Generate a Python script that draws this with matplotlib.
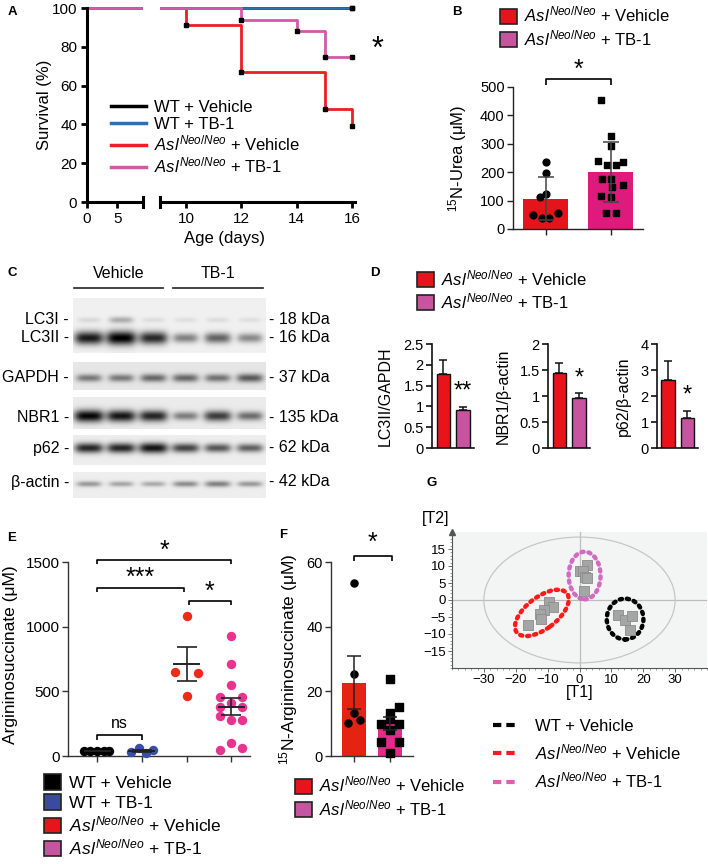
import matplotlib
matplotlib.use('Agg')
import matplotlib.pyplot as plt
import numpy as np
from matplotlib.patches import Patch, Ellipse, Rectangle
from matplotlib.lines import Line2D
from matplotlib.ticker import MultipleLocator, FormatStrFormatter

plt.rcParams['font.family'] = ['Liberation Sans', 'DejaVu Sans']
plt.rcParams['mathtext.fontset'] = 'custom'
plt.rcParams['mathtext.rm'] = 'Liberation Sans'
plt.rcParams['mathtext.it'] = 'Liberation Sans:italic'
plt.rcParams['mathtext.bf'] = 'Liberation Sans:bold'

# ---------------- data ----------------
# A: survival
wt_veh_days = [0, 16]
wt_veh_surv = [100, 100]
wt_tb1_days = [0, 16]
wt_tb1_surv = [100, 100]
asl_veh_days = [0, 10, 12, 15, 16]
asl_veh_surv = [100, 91, 67, 48, 39]
asl_tb1_days = [0, 12, 14, 15, 16]
asl_tb1_surv = [100, 94, 88, 75, 75]

# B: 15N-urea
urea_veh = [236, 196, 124, 112, 50, 39, 39, 56]
urea_veh_jit = [0, 0, 0, -0.08, -0.19, -0.06, 0.05, 0.19]
urea_tb1 = [455, 329, 293, 241, 227, 227, 236, 177, 177, 154, 148, 115, 113, 56, 56]
urea_tb1_jit = [-0.15, 0, 0, -0.19, -0.05, 0.09, 0.19, -0.13, 0.01, 0.19, 0.03, -0.14, 0.01, -0.07, 0.08]

# C: western blot band intensities (6 lanes: 3 vehicle, 3 TB-1)
lc3i_band = [0.10, 0.28, 0.08, 0.07, 0.08, 0.07]
lc3ii_band = [0.88, 1.00, 0.82, 0.45, 0.58, 0.42]
gapdh_band = [0.45, 0.45, 0.52, 0.52, 0.48, 0.58]
nbr1_band = [0.95, 0.88, 0.82, 0.45, 0.72, 0.52]
p62_band = [0.82, 0.82, 0.90, 0.70, 0.62, 0.58]
actin_band = [0.35, 0.30, 0.28, 0.40, 0.45, 0.35]
blot_rows = ['LC3I', 'LC3II', 'GAPDH', 'NBR1', 'p62', 'β-actin']
blot_kda = ['18 kDa', '16 kDa', '37 kDa', '135 kDa', '62 kDa', '42 kDa']

# D: densitometry (mean, error)
lc3_mean = [1.78, 0.92]
lc3_err = [0.34, 0.07]
nbr1_mean = [1.45, 0.96]
nbr1_err = [0.18, 0.09]
p62_mean = [2.60, 1.15]
p62_err = [0.75, 0.27]

# E: argininosuccinate
as_wt_veh = [41, 40, 42, 38, 41]
as_wt_veh_jit = [-0.30, -0.15, 0, 0.15, 0.26]
as_wt_tb1 = [33, 59, 20, 46]
as_wt_tb1_jit = [-0.25, -0.07, 0.09, 0.26]
as_asl_veh = [1082, 650, 642, 464]
as_asl_veh_jit = [0, -0.26, 0.25, 0]
as_asl_tb1 = [928, 711, 549, 459, 459, 412, 381, 381, 309, 278, 278, 98, 46, 59]
as_asl_tb1_jit = [0, 0, 0, -0.24, 0.25, 0, -0.24, 0.25, -0.24, 0, 0.25, 0, -0.24, 0.25]

# F: 15N-argininosuccinate
nas_veh = [53.6, 25.3, 13.2, 10.3, 11.1]
nas_veh_jit = [0, 0, 0, -0.16, 0.17]
nas_tb1 = [23.7, 15.2, 13.4, 11.4, 9.9, 9.9, 8.0, 4.4, 4.4, 0.9]
nas_tb1_jit = [0, 0.25, 0, 0, -0.25, 0.25, 0, -0.25, 0.25, 0]

# G: score plot
g_wt_t1 = [12.1, 14.3, 16.4, 15.8]
g_wt_t2 = [-4.3, -5.9, -4.8, -8.8]
g_veh_t1 = [-9.5, -8.2, -11.1, -12.5, -12.1, -16.2]
g_veh_t2 = [-0.5, -2.2, -3.0, -4.1, -5.6, -7.4]
g_tb1_t1 = [2.3, 0.0, 0.95, 1.6, 2.3, 1.3]
g_tb1_t2 = [10.3, 8.6, 8.6, 6.9, 6.6, 2.6]

ASL = r'$\mathit{Asl}^{\mathit{Neo/Neo}}$'
lab_asl_veh = ASL + ' + Vehicle'
lab_asl_tb1 = ASL + ' + TB-1'

RED = '#e8141b'
MAUVE = '#c6549f'

# ---------------- figure ----------------
W, H = 708, 864
fig = plt.figure(figsize=(W / 100, H / 100), dpi=100)


def px_ax(l, t, r, b):
    return fig.add_axes([l / W, 1 - b / H, (r - l) / W, (b - t) / H])


def ftext(x, y, s, **kw):
    fig.text(x / W, 1 - y / H, s, **kw)


def px_legend(handles, labels, x, y, **kw):
    opts = dict(loc='upper left', frameon=False, borderpad=0, borderaxespad=0,
                fontsize=12, handletextpad=0.45, labelspacing=0.2)
    opts.update(kw)
    fig.legend(handles, labels, bbox_to_anchor=(x / W, 1 - y / H),
               bbox_transform=fig.transFigure, **opts)


def square(c):
    return Patch(facecolor=c, edgecolor='#222222', lw=1.2)


def bracket(ax, x0, x1, y, h, lw=1.2):
    ax.plot([x0, x0, x1, x1], [y - h, y, y, y - h], color='k', lw=lw,
            clip_on=False, solid_capstyle='butt')


def simple_axes(ax, fs, lw=1.0, color='#222222'):
    for s in ['top', 'right']:
        ax.spines[s].set_visible(False)
    for s in ['left', 'bottom']:
        ax.spines[s].set_linewidth(lw)
        ax.spines[s].set_color(color)
    ax.tick_params(labelsize=fs, width=lw, length=4, color=color, pad=2)
    ax.set_facecolor('none')


for letter, (x, y) in zip('ABCDEFG', [(12, 12), (457, 12), (12, 273), (375, 273),
                                      (12, 538), (283, 535), (432, 483)]):
    ftext(x, y, letter, fontsize=9.5, fontweight='bold', ha='center', va='center')

# ---------------- A ----------------
axL = px_ax(87, 8, 143, 202)
axR = px_ax(160, 8, 355, 202)
series = [(wt_veh_days, wt_veh_surv, '#000000', 'WT + Vehicle'),
          (wt_tb1_days, wt_tb1_surv, '#2f6db5', 'WT + TB-1'),
          (asl_veh_days, asl_veh_surv, '#ee1c25', lab_asl_veh),
          (asl_tb1_days, asl_tb1_surv, '#d05aa8', lab_asl_tb1)]
for ax in (axL, axR):
    ax.set_ylim(0, 100)
    ax.set_facecolor('none')
    for s in ['top', 'right', 'left', 'bottom']:
        ax.spines[s].set_visible(False)
    clip = Rectangle((0, -0.05), 1, 1.1, transform=ax.transAxes, visible=False)
    ax.add_patch(clip)
    for d, sv, c, lab in series:
        ln, = ax.step(d, sv, where='post', color=c, lw=2.0)
        ln.set_clip_path(clip)
axL.set_xlim(0, 9.3)
axR.set_xlim(9.06, 16.1)
for d, sv, c, lab in series:
    axR.plot(d[1:], sv[1:], 's', color='k', ms=2.5, clip_on=False, zorder=5)
axL.spines['left'].set_visible(True)
axL.spines['bottom'].set_visible(True)
axR.spines['bottom'].set_visible(True)
for ax in (axL, axR):
    for s in ['left', 'bottom']:
        ax.spines[s].set_linewidth(2.2)
    ax.tick_params(labelsize=11, width=2, length=4, pad=3)
axL.set_yticks([0, 20, 40, 60, 80, 100])
axL.set_xticks([0, 5])
axR.set_yticks([])
axR.set_xticks([10, 12, 14, 16])
axL.plot([1, 1], [-0.025, 0.025], transform=axL.transAxes, color='k', lw=2.2, clip_on=False)
axR.plot([0, 0], [-0.025, 0.025], transform=axR.transAxes, color='k', lw=2.2, clip_on=False)
ftext(44, 105, 'Survival (%)', fontsize=12, rotation=90, ha='center', va='center')
ftext(225, 238, 'Age (days)', fontsize=12, ha='center', va='center')
ftext(378, 50, '*', fontsize=22, ha='center', va='center')
px_legend([Line2D([], [], color=c, lw=2.5) for _, _, c, _ in series],
          [lab for _, _, _, lab in series], 111, 100, handlelength=2.1, handletextpad=0.5,
          labelspacing=0.12)

# ---------------- B ----------------
axB = px_ax(513, 87, 643, 229)
simple_axes(axB, 10.5)
axB.set_xlim(-0.5, 1.5)
axB.set_ylim(0, 500)
axB.set_yticks([0, 100, 200, 300, 400, 500])
axB.set_xticks([0, 1])
axB.set_xticklabels([])
for i, (vals, jit, col, mk) in enumerate([(urea_veh, urea_veh_jit, '#e5141b', 'o'),
                                          (urea_tb1, urea_tb1_jit, '#e0197d', 's')]):
    m = np.mean(vals)
    sd = np.std(vals, ddof=1)
    axB.bar(i, m, width=0.7, color=col, zorder=1)
    axB.scatter(i + np.array(jit), vals, marker=mk, s=24, color='k', zorder=3, clip_on=False)
    axB.errorbar(i, m, yerr=sd, color='#444444', capsize=6, lw=1.1, capthick=1.1, zorder=4)
bracket(axB, 0, 1, 528, 20)
axB.text(0.5, 560, '*', fontsize=18, ha='center', va='center')
ftext(458, 158, r'$^{15}$N-Urea (μM)', fontsize=12, rotation=90, ha='center', va='center')
px_legend([square(RED), square(MAUVE)], [lab_asl_veh, lab_asl_tb1], 500, 5,
          handlelength=1.0, handleheight=1.0)

# ---------------- C ----------------
axC = fig.add_axes([0, 0, 1, 1], zorder=-1)
axC.set_xlim(0, W)
axC.set_ylim(H, 0)
axC.axis('off')


def blot(top, bottom, bands, bg=0.93):
    w, h = 193, bottom - top
    xs = np.arange(w)[None, :] + 0.5
    ys = np.arange(h)[:, None] + 0.5
    img = np.full((h, w), bg)
    for yc, inten, sy in bands:
        for i, v in enumerate(inten):
            xc = (i + 0.5) * w / 6
            hw = 11 + 4 * v
            s = sy * (0.6 + 0.8 * v)
            img -= 0.95 * v * np.exp(-(np.abs(xs - xc) / hw) ** 4) * np.exp(-((ys - (yc - top)) / s) ** 2)
    img = np.clip(img, 0, 1)
    axC.imshow(img, cmap='gray', vmin=0, vmax=1, extent=(73, 73 + w, bottom, top),
               aspect='auto', interpolation='bilinear')


blot(298, 353, [(320, lc3i_band, 4.0), (338, lc3ii_band, 5.0)], bg=0.94)
blot(362, 390, [(378, gapdh_band, 4.0)], bg=0.90)
blot(397, 429, [(416, nbr1_band, 4.5)], bg=0.92)
blot(435, 465, [(448, p62_band, 4.0)], bg=0.93)
blot(472, 498, [(484, actin_band, 3.2)], bg=0.93)
for txt, x0, x1 in [('Vehicle', 74, 163), ('TB-1', 173, 263)]:
    axC.plot([x0, x1], [288, 288], color='#222222', lw=1.2)
    axC.text((x0 + x1) / 2, 273, txt, fontsize=11.5, ha='center', va='center')
for name, kda, yy in zip(blot_rows, blot_kda, [320, 338, 378, 417, 448, 482]):
    axC.text(69, yy, name + ' -', fontsize=11.5, ha='right', va='center')
    axC.text(269, yy, '- ' + kda, fontsize=11.5, ha='left', va='center')

# ---------------- D ----------------
d_sets = [(lc3_mean, lc3_err, 2.5, [0, 0.5, 1, 1.5, 2, 2.5], 'LC3II/GAPDH', '**', 432, 474, 385),
          (nbr1_mean, nbr1_err, 2.0, [0, 0.5, 1, 1.5, 2], 'NBR1/β-actin', '*', 548, 590, 503),
          (p62_mean, p62_err, 4.0, [0, 1, 2, 3, 4], 'p62/β-actin', '*', 657, 698, 623)]
for mean, err, top, ticks, ylab, star, l, r, lx in d_sets:
    ax = px_ax(l, 344, r, 448)
    simple_axes(ax, 10.5, lw=1.2, color='#111111')
    ax.set_ylim(0, top)
    ax.set_xlim(-0.58, 1.55)
    ax.set_yticks(ticks)
    ax.yaxis.set_major_formatter(FormatStrFormatter('%g'))
    ax.set_xticks([])
    ax.bar([0, 1], mean, width=0.7, color=[RED, MAUVE], edgecolor='#111111', lw=1.0,
           yerr=[[0, 0], err], error_kw=dict(ecolor='#111111', capsize=3, lw=1.1, capthick=1.1))
    ax.text(1, mean[1] + err[1] + top * 0.04, star, fontsize=17, ha='center', va='bottom')
    ftext(lx, 396, ylab, fontsize=11.5, rotation=90, ha='center', va='center')
px_legend([square(RED), square(MAUVE)], [lab_asl_veh, lab_asl_tb1], 417, 268,
          handlelength=1.0, handleheight=1.0)

# ---------------- E ----------------
axE = px_ax(68, 562, 250, 756)
simple_axes(axE, 11, lw=1.0, color='#333333')
axE.set_xlim(-0.65, 3.42)
axE.set_ylim(0, 1500)
axE.set_yticks([0, 500, 1000, 1500])
axE.set_xticks([0, 1, 2, 3])
axE.set_xticklabels([])
e_groups = [(as_wt_veh, as_wt_veh_jit, '#000000'),
            (as_wt_tb1, as_wt_tb1_jit, '#3b4ea5'),
            (as_asl_veh, as_asl_veh_jit, '#ee2a1b'),
            (as_asl_tb1, as_asl_tb1_jit, '#e8338f')]
for i, (vals, jit, col) in enumerate(e_groups):
    m = np.mean(vals)
    sem = np.std(vals, ddof=1) / np.sqrt(len(vals))
    axE.scatter(i + np.array(jit), vals, s=46, color=col, zorder=3, clip_on=False, lw=0)
    axE.plot([i - 0.28, i + 0.28], [m, m], color='#222222', lw=1.4, zorder=4)
    axE.errorbar(i, m, yerr=sem, color='#222222', capsize=7, lw=1.2, capthick=1.2, zorder=4)
bracket(axE, 0, 3, 1515, 30)
axE.text(1.5, 1590, '*', fontsize=18, ha='center', va='center')
bracket(axE, 0, 1.95, 1300, 30)
axE.text(0.97, 1375, '***', fontsize=18, ha='center', va='center')
bracket(axE, 2.05, 3, 1198, 30)
axE.text(2.52, 1268, '*', fontsize=18, ha='center', va='center')
bracket(axE, 0, 1, 162, 38)
axE.text(0.5, 250, 'ns', fontsize=11.5, ha='center', va='center')
ftext(11, 655, 'Argininosuccinate (μM)', fontsize=12.5, rotation=90, ha='center', va='center')
px_legend([square('#000000'), square('#3a4aa0'), square(RED), square(MAUVE)],
          ['WT + Vehicle', 'WT + TB-1', lab_asl_veh, lab_asl_tb1], 44, 774,
          handlelength=1.0, handleheight=1.0, fontsize=12.5, labelspacing=0.2)

# ---------------- F ----------------
axF = px_ax(331, 562, 413, 756)
simple_axes(axF, 10.5, lw=1.0, color='#333333')
axF.set_xlim(-0.64, 1.64)
axF.set_ylim(0, 60)
axF.set_yticks([0, 20, 40, 60])
axF.set_xticks([0, 1])
axF.set_xticklabels([])
for i, (vals, jit, col, mk) in enumerate([(nas_veh, nas_veh_jit, '#e42312', 'o'),
                                          (nas_tb1, nas_tb1_jit, '#e62a8a', 's')]):
    m = np.mean(vals)
    sem = np.std(vals, ddof=1) / np.sqrt(len(vals))
    axF.bar(i, m, width=0.67, color=col, zorder=1)
    axF.scatter(i + np.array(jit), vals, marker=mk, s=26, color='k', zorder=3, clip_on=False)
    axF.errorbar(i, m, yerr=sem, color='#222222', capsize=5, lw=1.1, capthick=1.1, zorder=4)
bracket(axF, 0, 1.05, 62, 1.7)
axF.text(0.52, 66, '*', fontsize=18, ha='center', va='center')
ftext(289, 659, r'$^{15}$N-Argininosuccinate (μM)', fontsize=12.5, rotation=90,
      ha='center', va='center')
px_legend([square(RED), square(MAUVE)], [lab_asl_veh, lab_asl_tb1], 295, 775,
          handlelength=1.0, handleheight=1.0)

# ---------------- G ----------------
axG = px_ax(452, 532, 707, 668)
axG.set_facecolor('#f3f5f5')
axG.set_xlim(-40, 40)
axG.set_ylim(-20, 20)
for s in ['top', 'right']:
    axG.spines[s].set_visible(False)
for s in ['left', 'bottom']:
    axG.spines[s].set_color('#555555')
    axG.spines[s].set_linewidth(0.8)
axG.set_xticks([-30, -20, -10, 0, 10, 20, 30])
axG.set_yticks([-15, -10, -5, 0, 5, 10, 15])
axG.xaxis.set_minor_locator(MultipleLocator(2))
axG.yaxis.set_minor_locator(MultipleLocator(1))
axG.tick_params(labelsize=9.5, length=3, width=0.6, color='#555555', pad=1.5)
axG.tick_params(which='minor', length=1.5, width=0.5, color='#777777')
axG.axhline(0, color='#bdbdbd', lw=0.9, zorder=1)
axG.axvline(0, color='#bdbdbd', lw=0.9, zorder=1)
axG.add_patch(Ellipse((0, 0), 60, 37, fill=False, ec='#c6c6c6', lw=0.9, zorder=1))
for (cx, cy, w, h, ang, col) in [(14.3, -5.6, 11.5, 12.0, 0, '#000000'),
                                 (-11.8, -3.8, 19.5, 9.5, 35, '#ff1a1a'),
                                 (1.6, 7.2, 10.0, 14.0, 0, '#d26bc0')]:
    e = Ellipse((cx, cy), w, h, angle=ang, fill=False, ec=col, lw=3.2,
                ls=(0, (0.5, 1.1)), zorder=2)
    e.set_capstyle('round')
    axG.add_patch(e)
for t1, t2 in [(g_wt_t1, g_wt_t2), (g_veh_t1, g_veh_t2), (g_tb1_t1, g_tb1_t2)]:
    axG.scatter(t1, t2, marker='s', s=55, color='#a5a5a5', edgecolor='#8c8c8c', lw=0.6, zorder=3)
axG.plot([0], [1], marker='^', color='#555555', ms=4, transform=axG.transAxes, clip_on=False)
ftext(436, 518, '[T2]', fontsize=11.5, ha='center', va='center')
ftext(580, 693, '[T1]', fontsize=11.5, ha='center', va='center')
px_legend([Line2D([], [], color=c, lw=3, ls=(0, (2, 1.2))) for c in ['#000000', '#ee1c25', '#df5fae']],
          ['WT + Vehicle', lab_asl_veh, lab_asl_tb1], 493, 719,
          handlelength=1.55, handletextpad=0.95, labelspacing=0.5)

fig.savefig('out.png', dpi=100)
